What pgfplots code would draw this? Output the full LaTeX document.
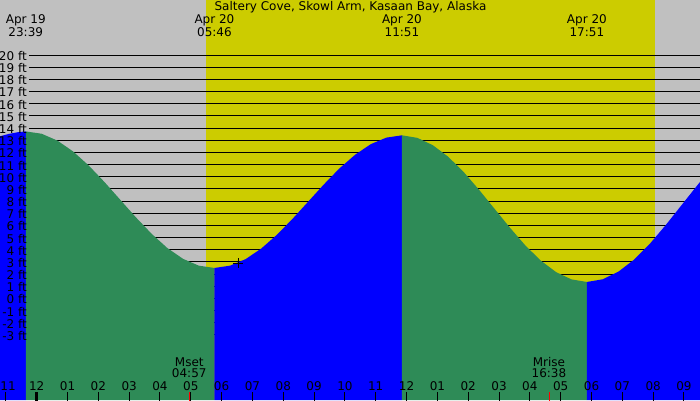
\documentclass[border=0pt]{standalone}
\usepackage{pgfplots}
\pgfplotsset{compat=1.18}
\usepackage{fontspec}
\setmainfont{DejaVu Sans}
\definecolor{bgray}{HTML}{C0C0C0}
\definecolor{dayy}{HTML}{CCCC00}
\definecolor{sea}{HTML}{2E8B57}
\definecolor{tblue}{HTML}{0000FF}
\newcommand{\hl}[2]{\node[anchor=base,inner sep=0pt] at (axis cs:#1,-7.53) {#2};}
\begin{document}
\begin{tikzpicture}[font=\fontsize{12}{14}\selectfont]
\begin{axis}[scale only axis, width=700pt, height=400pt,
  xmin=-1.19, xmax=21.52, ymin=-8.35, ymax=24.52,
  hide axis, clip=true]
% night / day background
\addplot[fill=bgray, draw=none] coordinates {(-1.19,-8.35) (5.493,-8.35) (5.493,24.52) (-1.19,24.52)} -- cycle;
\addplot[fill=dayy, draw=none] coordinates {(5.493,-8.35) (20.062,-8.35) (20.062,24.52) (5.493,24.52)} -- cycle;
\addplot[fill=bgray, draw=none] coordinates {(20.062,-8.35) (21.52,-8.35) (21.52,24.52) (20.062,24.52)} -- cycle;
% grid lines
\pgfplotsinvokeforeach{-3,...,20}{\addplot[black, line width=1pt] coordinates {(-0.25,#1) (21.52,#1)};}
% rising (blue) before first high
\addplot[fill=tblue, draw=none] coordinates {(-1.19,-8.35) (-1.19,13.32) (-0.9,13.52) (-0.6,13.66) (-0.35,13.72) (-0.35,-8.35)} -- cycle;
% falling (green)
\addplot[fill=sea, draw=none] coordinates {(-0.35,-8.35) (-0.35,13.72) (0.160,13.53) (0.670,12.97) (1.179,12.08) (1.689,10.92) (2.199,9.56) (2.709,8.11) (3.219,6.66) (3.728,5.31) (4.238,4.14) (4.748,3.25) (5.258,2.69) (5.767,2.50) (5.767,-8.35)} -- cycle;
% rising (blue)
\addplot[fill=tblue, draw=none] coordinates {(5.767,-8.35) (5.767,2.50) (6.274,2.69) (6.781,3.23) (7.288,4.10) (7.795,5.23) (8.302,6.54) (8.809,7.95) (9.315,9.36) (9.822,10.68) (10.329,11.80) (10.836,12.67) (11.343,13.21) (11.85,13.40) (11.85,-8.35)} -- cycle;
% falling (green)
\addplot[fill=sea, draw=none] coordinates {(11.85,-8.35) (11.85,13.40) (12.35,13.19) (12.85,12.59) (13.35,11.64) (13.85,10.39) (14.35,8.93) (14.85,7.375) (15.35,5.82) (15.85,4.36) (16.35,3.11) (16.85,2.16) (17.35,1.56) (17.85,1.35) (17.85,-8.35)} -- cycle;
% rising (blue)
\addplot[fill=tblue, draw=none] coordinates {(17.85,-8.35) (17.85,1.35) (18.363,1.57) (18.875,2.20) (19.388,3.20) (19.90,4.51) (20.413,6.04) (20.925,7.675) (21.438,9.31) (21.52,9.57) (21.52,-8.35)} -- cycle;
% current time marker
\addplot[black, only marks, mark=+, mark size=5pt, line width=1pt] coordinates {(6.54,2.9)};
% hour ticks
\pgfplotsinvokeforeach{-1,1,2,...,21}{\addplot[black, line width=1pt] coordinates {(#1,-7.7) (#1,-8.4)};}
\addplot[black, line width=3pt] coordinates {(0,-7.7) (0,-8.4)};
\addplot[red, line width=1pt] coordinates {(4.95,-7.7) (4.95,-8.4)};
\addplot[red, line width=1pt] coordinates {(16.633,-7.7) (16.633,-8.4)};
% y labels
\pgfplotsinvokeforeach{-3,...,20}{\node[anchor=base east,inner sep=0pt] at (axis cs:-0.315,#1-0.45) {#1 ft};}
% hour labels
\hl{-0.93}{11}\hl{0}{12}\hl{1}{01}\hl{2}{02}\hl{3}{03}\hl{4}{04}\hl{5}{05}\hl{6}{06}
\hl{7}{07}\hl{8}{08}\hl{9}{09}\hl{10}{10}\hl{11}{11}\hl{12}{12}\hl{13}{01}\hl{14}{02}
\hl{15}{03}\hl{16}{04}\hl{17}{05}\hl{18}{06}\hl{19}{07}\hl{20}{08}\hl{21}{09}
% moon labels
\node[anchor=base,inner sep=0pt] at (axis cs:4.95,-5.61) {Mset};
\node[anchor=base,inner sep=0pt] at (axis cs:4.95,-6.48) {04:57};
\node[anchor=base,inner sep=0pt] at (axis cs:16.62,-5.61) {Mrise};
\node[anchor=base,inner sep=0pt] at (axis cs:16.62,-6.48) {16:38};
% title and tide times
\node[anchor=base,inner sep=0pt] at (axis cs:10.18,23.62) {Saltery Cove, Skowl Arm, Kasaan Bay, Alaska};
\node[anchor=base,inner sep=0pt] at (axis cs:-0.354,22.55) {Apr 19};
\node[anchor=base,inner sep=0pt] at (axis cs:-0.354,21.56) {23:39};
\node[anchor=base,inner sep=0pt] at (axis cs:5.767,22.55) {Apr 20};
\node[anchor=base,inner sep=0pt] at (axis cs:5.767,21.56) {05:46};
\node[anchor=base,inner sep=0pt] at (axis cs:11.85,22.55) {Apr 20};
\node[anchor=base,inner sep=0pt] at (axis cs:11.85,21.56) {11:51};
\node[anchor=base,inner sep=0pt] at (axis cs:17.85,22.55) {Apr 20};
\node[anchor=base,inner sep=0pt] at (axis cs:17.85,21.56) {17:51};
\end{axis}
\end{tikzpicture}
\end{document}
